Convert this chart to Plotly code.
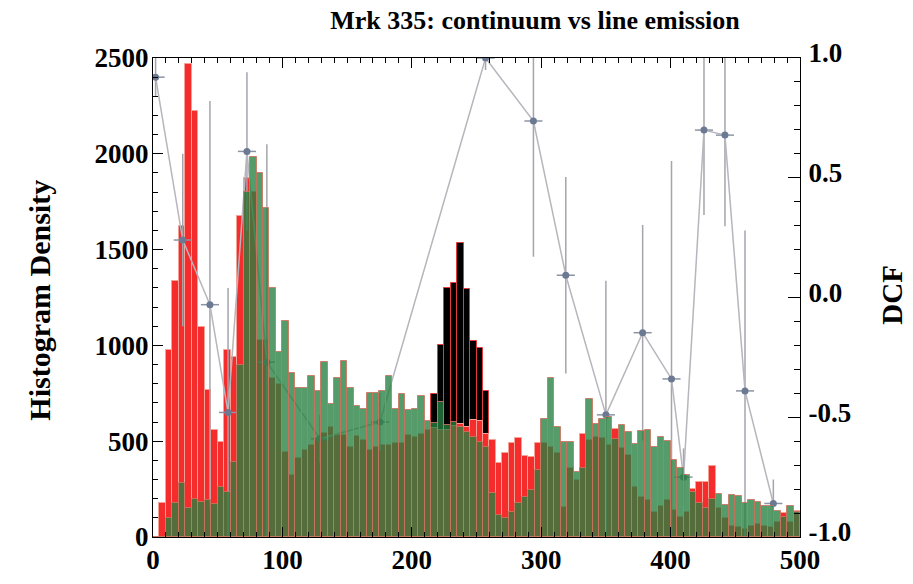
import numpy as np
import plotly.graph_objects as go

# Histogram bins: 100 bins of width 5 over lag 0-500
bin_width = 5
bin_start = np.arange(0, 500, bin_width)

# Continuum histogram (red)
continuum_counts = [
    0, 179, 976, 1338, 1623, 2469, 2223, 1098, 767, 558, 497, 976, 941, 1677, 1872, 1800, 1030, 1030, 830, 800,
    445, 324, 411, 454, 480, 515, 541, 572, 532, 532, 471, 528, 506, 454, 471, 480, 480, 489, 489, 532,
    524, 540, 560, 570, 560, 560, 580, 590, 572, 612, 604, 540, 506, 388, 440, 492, 515, 423, 418, 489,
    489, 471, 438, 158, 360, 300, 536, 506, 524, 515, 480, 562, 463, 428, 263, 210, 193, 132, 160, 193,
    140, 106, 132, 250, 289, 289, 371, 150, 100, 60, 50, 40, 60, 70, 60, 50, 80, 127, 80, 134,
]

# Line-emission histogram (green)
line_counts = [
    0, 0, 100, 180, 280, 150, 200, 185, 195, 170, 260, 235, 390, 900, 1800, 1985, 1901, 1717, 1301, 967,
    1129, 854, 776, 776, 840, 764, 915, 694, 831, 920, 776, 684, 668, 753, 750, 764, 840, 666, 748, 661,
    668, 736, 607, 593, 706, 585, 602, 576, 550, 524, 497, 471, 228, 115, 97, 132, 176, 210, 245, 350,
    614, 828, 576, 497, 497, 341, 358, 722, 589, 614, 625, 510, 585, 550, 485, 555, 558, 471, 524, 503,
    404, 362, 324, 237, 177, 151, 200, 222, 167, 219, 214, 176, 193, 185, 162, 160, 137, 106, 162, 130,
]

# Peak histogram (black), non-zero only around lag 215-260
peak_counts = [0] * 100
for i, v in zip(range(43, 52), [745, 1004, 1301, 1327, 1536, 1293, 1023, 988, 762]):
    peak_counts[i] = v

# Discrete correlation function
dcf_lag = [2, 23, 44, 58, 72.6, 88, 129, 175.4, 257, 294, 319, 350, 378.4, 400.7, 410, 425.8, 442, 457.5, 479.4]
dcf_value = [0.92, 0.24, -0.03, -0.48, 0.61, -0.27, -0.59, -0.52, 1.0, 0.737, 0.093, -0.49, -0.147, -0.34,
             -0.75, 0.699, 0.678, -0.39, -0.86]
dcf_error = [0.08, 0.36, 0.85, 0.52, 0.33, 0.91, 0.10, 0.12, 0.05, 0.567, 0.41, 0.56, 0.45, 0.91,
             0.12, 0.355, 0.38, 0.67, 0.10]
lag_error = [7] * len(dcf_lag)

x_ticks = [0, 100, 200, 300, 400, 500]
y_ticks = [0, 500, 1000, 1500, 2000, 2500]
dcf_ticks = [-1.0, -0.5, 0.0, 0.5, 1.0]
dcf_tick_labels = ["-1.0", "-0.5", "0.0", "0.5", "1.0"]

centers = bin_start + bin_width / 2
serif = "Liberation Serif"
tick_font = dict(family=serif, size=27, color="black", weight="bold")

fig = go.Figure()

fig.add_bar(
    x=centers, y=peak_counts, width=bin_width,
    marker=dict(color="black", line=dict(color="#e23c3c", width=1)),
)
fig.add_bar(
    x=centers, y=continuum_counts, width=bin_width,
    marker=dict(color="#f52c2c", line=dict(color="#f7a096", width=1)),
)
fig.add_scatter(
    x=dcf_lag, y=dcf_value, yaxis="y2", mode="lines+markers",
    line=dict(color="#b6b6bc", width=1.5),
    marker=dict(color="#6b7a92", size=7, symbol="circle"),
    error_y=dict(type="data", array=dcf_error, color="#a4a4ac", thickness=1.5, width=0),
    error_x=dict(type="data", array=lag_error, color="#8c94a4", thickness=1.5, width=0),
)
fig.add_bar(
    x=centers, y=line_counts, width=bin_width, yaxis="y3",
    marker=dict(color="rgba(38,128,64,0.78)", line=dict(color="rgba(205,115,95,0.85)", width=1)),
)

fig.update_layout(
    width=913, height=584,
    margin=dict(l=153, r=113, t=58, b=47),
    paper_bgcolor="white", plot_bgcolor="white",
    barmode="overlay", bargap=0, showlegend=False,
    title=dict(
        text="Mrk 335: continuum vs line emission",
        font=dict(family=serif, size=26, color="black", weight="bold"),
        x=0.586, xanchor="center", y=0.966, yanchor="middle",
    ),
    xaxis=dict(
        range=[0, 500], tickvals=x_ticks, ticks="inside", ticklen=10, tickcolor="black",
        showline=True, linecolor="black", linewidth=1, mirror="ticks", automargin=False,
        showgrid=False, zeroline=False, tickfont=tick_font, ticklabelstandoff=-1,
        minor=dict(dtick=10, ticks="inside", ticklen=5, tickcolor="black", showgrid=False),
    ),
    yaxis=dict(
        range=[0, 2500], tickvals=y_ticks, ticks="inside", ticklen=10, tickcolor="black",
        showline=True, linecolor="black", linewidth=1, automargin=False,
        showgrid=False, zeroline=False, tickfont=tick_font, ticklabelstandoff=-2,
        minor=dict(dtick=100, ticks="inside", ticklen=5, tickcolor="black", showgrid=False),
    ),
    yaxis2=dict(
        range=[-1, 1], overlaying="y", side="right",
        tickvals=dcf_ticks, ticktext=dcf_tick_labels,
        ticks="inside", ticklen=12, tickcolor="black",
        showline=True, linecolor="black", linewidth=1, automargin=False,
        showgrid=False, zeroline=False, tickfont=tick_font,
        ticklabelshift=-5, ticklabelstandoff=2,
        minor=dict(dtick=0.1, ticks="inside", ticklen=6, tickcolor="black", showgrid=False),
    ),
    yaxis3=dict(range=[0, 2500], overlaying="y", visible=False),
    annotations=[
        dict(text="Histogram Density", xref="paper", yref="paper", x=-0.175, y=0.495,
             textangle=-90, showarrow=False, xanchor="center", yanchor="middle",
             font=dict(family=serif, size=30, color="black", weight="bold")),
        dict(text="DCF", xref="paper", yref="paper", x=1.143, y=0.505,
             textangle=-90, showarrow=False, xanchor="center", yanchor="middle",
             font=dict(family=serif, size=29, color="black", weight="bold")),
    ],
)

fig.write_html("out.html")
